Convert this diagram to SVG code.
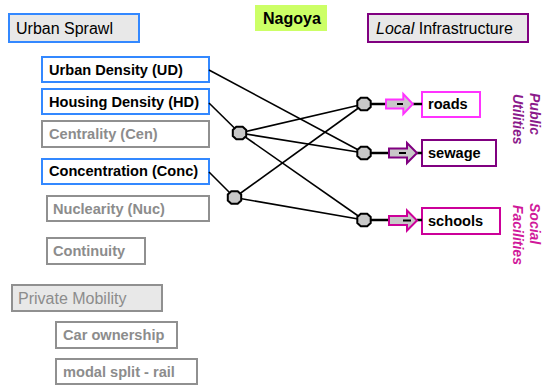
<svg xmlns="http://www.w3.org/2000/svg" width="543" height="385" viewBox="0 0 543 385">
  <style>
    text { font-family: "Liberation Sans", Arial, sans-serif; }
    .hdr { font-size: 16px; }
    .lbl { font-size: 14.6px; font-weight: bold; }
    .blue { fill: #ffffff; stroke: #3388ff; stroke-width: 2; }
    .grey { fill: #ffffff; stroke: #909090; stroke-width: 2; }
    .greytxt { fill: #8c8c8c; }
    .panel { fill: #e8e8e8; stroke-width: 2; }
    .wire { stroke: #000; stroke-width: 1.6; fill: none; }
    .stub { stroke: #000; stroke-width: 2.5; fill: none; }
    .node { fill: #c8c8c8; stroke: #000; stroke-width: 2; }
    .arrow { fill: #c8c8c8; stroke-width: 2; stroke-linejoin: miter; }
    .dash { stroke: #000; stroke-width: 2; }
    .side { font-size: 14px; font-weight: bold; font-style: italic; }
  </style>
  <defs>
    <polygon id="oct" points="-3.2,-6.2 3.2,-6.2 6.7,-3 6.7,3 3.2,6.2 -3.2,6.2 -6.7,3 -6.7,-3"/>
    <polygon id="blk" points="0,-4.5 18,-4.5 18,-10 28,0 18,10 18,4.5 0,4.5"/>
  </defs>

  <!-- section headers -->
  <g id="urban-sprawl">
    <rect class="panel" x="9" y="14" width="130" height="28" stroke="#3388ff"/>
    <text class="hdr" x="16" y="34">Urban Sprawl</text>
  </g>
  <g id="nagoya">
    <rect x="255" y="5" width="72" height="26" fill="#ccff66"/>
    <text class="hdr" x="263" y="24" font-weight="bold">Nagoya</text>
  </g>
  <g id="local-infrastructure">
    <rect class="panel" x="368" y="14" width="160" height="28" stroke="#800080"/>
    <text class="hdr" x="376" y="34"><tspan font-style="italic">Local</tspan> Infrastructure</text>
  </g>
  <g id="private-mobility">
    <rect class="panel" x="12" y="285" width="150" height="26" stroke="#909090"/>
    <text class="hdr greytxt" x="18" y="304">Private Mobility</text>
  </g>

  <!-- indicators -->
  <g id="ud">
    <rect class="blue" x="42" y="57" width="167" height="25"/>
    <text class="lbl" x="49" y="74.5">Urban Density (UD)</text>
  </g>
  <g id="hd">
    <rect class="blue" x="42" y="89" width="167" height="25"/>
    <text class="lbl" x="49" y="106.5">Housing Density (HD)</text>
  </g>
  <g id="cen">
    <rect class="grey" x="42" y="121" width="167" height="26"/>
    <text class="lbl greytxt" x="49" y="138.5">Centrality (Cen)</text>
  </g>
  <g id="conc">
    <rect class="blue" x="42" y="159" width="167" height="25"/>
    <text class="lbl" x="49" y="176">Concentration (Conc)</text>
  </g>
  <g id="nuc">
    <rect class="grey" x="47" y="196" width="162" height="25"/>
    <text class="lbl greytxt" x="53" y="213.5">Nuclearity (Nuc)</text>
  </g>
  <g id="continuity">
    <rect class="grey" x="47" y="238" width="98" height="26"/>
    <text class="lbl greytxt" x="53" y="255.5">Continuity</text>
  </g>
  <g id="car-ownership">
    <rect class="grey" x="56" y="322" width="121" height="26"/>
    <text class="lbl greytxt" x="63" y="340">Car ownership</text>
  </g>
  <g id="modal-split">
    <rect class="grey" x="56" y="359" width="141" height="25"/>
    <text class="lbl greytxt" x="63" y="376.5">modal split - rail</text>
  </g>

  <!-- infrastructure targets -->
  <g id="roads">
    <rect x="422" y="92" width="58" height="25" fill="#fff" stroke="#ff33ff" stroke-width="2"/>
    <text class="lbl" x="428" y="109">roads</text>
  </g>
  <g id="sewage">
    <rect x="422" y="140" width="74" height="26" fill="#fff" stroke="#800080" stroke-width="2"/>
    <text class="lbl" x="428" y="158">sewage</text>
  </g>
  <g id="schools">
    <rect x="422" y="208" width="78" height="26" fill="#fff" stroke="#cc0099" stroke-width="2"/>
    <text class="lbl" x="428" y="226">schools</text>
  </g>

  <!-- connectors -->
  <g id="connectors">
    <line class="wire" x1="209" y1="70" x2="364" y2="153"/>
    <line class="wire" x1="209" y1="103" x2="239.5" y2="133"/>
    <line class="wire" x1="209" y1="172" x2="234.5" y2="197.5"/>
    <line class="wire" x1="239.5" y1="133" x2="364" y2="104"/>
    <line class="wire" x1="239.5" y1="133" x2="364" y2="153"/>
    <line class="wire" x1="239.5" y1="133" x2="364" y2="220"/>
    <line class="wire" x1="234.5" y1="197.5" x2="364" y2="104"/>
    <line class="wire" x1="234.5" y1="197.5" x2="364" y2="220"/>

    <line class="stub" x1="364" y1="104" x2="386" y2="104"/>
    <line class="stub" x1="413" y1="104" x2="422" y2="104"/>
    <line class="stub" x1="364" y1="153" x2="389" y2="153"/>
    <line class="stub" x1="417" y1="153" x2="422" y2="153"/>
    <line class="stub" x1="364" y1="220" x2="389" y2="220"/>
    <line class="stub" x1="417" y1="220" x2="422" y2="220"/>

    <use href="#blk" class="arrow" stroke="#ff33ff" transform="translate(386,104) scale(0.96,1)"/>
    <line class="dash" x1="397" y1="104" x2="403" y2="104"/>
    <use href="#blk" class="arrow" stroke="#800080" transform="translate(389,153)"/>
    <line class="dash" x1="399" y1="153" x2="406" y2="153"/>
    <use href="#blk" class="arrow" stroke="#cc0099" transform="translate(389,220.5)"/>
    <line class="dash" x1="403" y1="220.5" x2="411" y2="220.5"/>

    <use href="#oct" class="node" x="239.5" y="133"/>
    <use href="#oct" class="node" x="234.5" y="197.5"/>
    <use href="#oct" class="node" x="364" y="104"/>
    <use href="#oct" class="node" x="364" y="153"/>
    <use href="#oct" class="node" x="364" y="220"/>
  </g>

  <!-- vertical group labels -->
  <g id="public-utilities">
    <text class="side" fill="#8b1a8b" transform="translate(530,93) rotate(90)">
      <tspan x="0" y="0">Public</tspan>
      <tspan x="1" y="17">Utilities</tspan>
    </text>
  </g>
  <g id="social-facilities">
    <text class="side" fill="#d0189a" transform="translate(530,203) rotate(90)">
      <tspan x="0" y="0">Social</tspan>
      <tspan x="2" y="17">Facilities</tspan>
    </text>
  </g>
</svg>
